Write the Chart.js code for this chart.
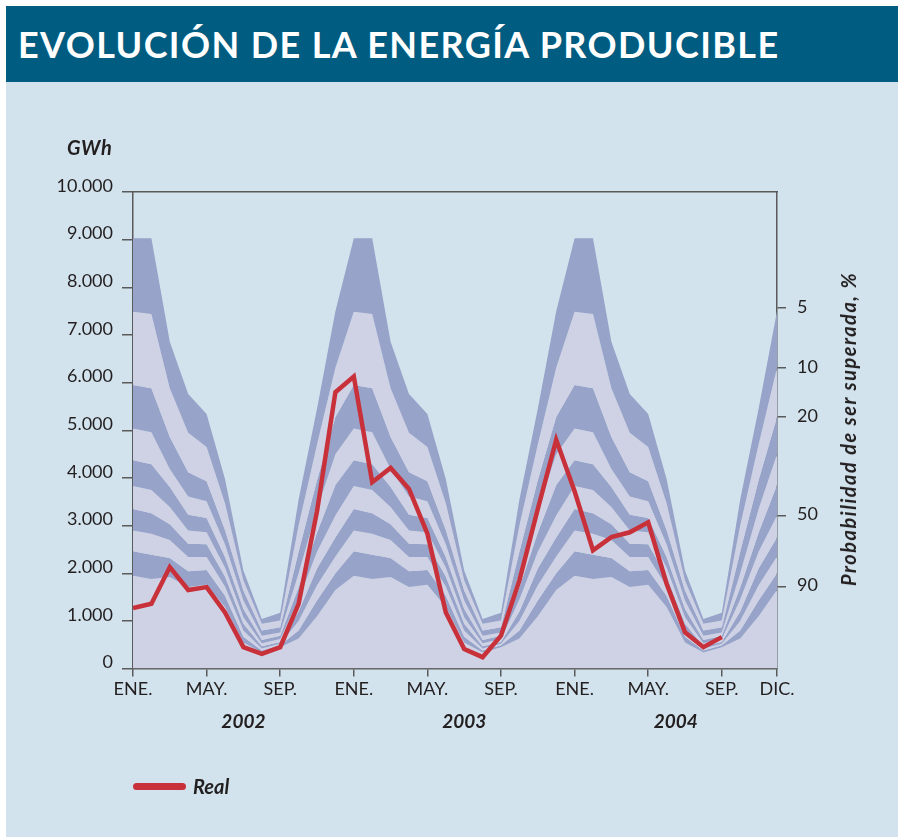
<!DOCTYPE html>
<html>
<head>
<meta charset="utf-8">
<script src="https://cdn.jsdelivr.net/npm/chart.js@4.4.1/dist/chart.umd.min.js"></script>
<style>
  html, body { margin: 0; padding: 0; background: #fff; }
  body { width: 898px; height: 837px; position: relative; overflow: hidden; font-family: Lato, "Open Sans", sans-serif; }
  #panel { position: absolute; left: 6px; top: 82px; width: 892px; height: 755px; background: #d2e3ed; }
  #title { position: absolute; left: 6px; top: 6px; width: 892px; height: 76px; background: #005c80;
           color: #fff; font-weight: 700; font-size: 36px; letter-spacing: 1.4px; line-height: 76px; padding-left: 12px; box-sizing: border-box; white-space: nowrap; }
  #wrap { position: absolute; left: 0; top: 0; width: 898px; height: 837px; }
  .lbl { position: absolute; color: #231f20; font-weight: 700; font-style: italic; white-space: nowrap; }
  #unit { left: 67px; top: 135px; font-size: 20px; letter-spacing: 0.5px; }
  #prob { left: 848px; top: 429px; font-size: 20px; letter-spacing: 1.5px; transform: translate(-50%, -50%) rotate(-90deg); }
  #legend-line { position: absolute; left: 133px; top: 783px; width: 53px; height: 7px; border-radius: 4px; background: #c8303a; }
  #legend-text { left: 193px; top: 774px; font-size: 20px; }
</style>
</head>
<body>
<div id="panel"></div>
<div id="title">EVOLUCIÓN DE LA ENERGÍA PRODUCIBLE</div>
<div id="wrap"><canvas id="chart"></canvas></div>
<div class="lbl" id="unit">GWh</div>
<div class="lbl" id="prob">Probabilidad de ser superada, %</div>
<div id="legend-line"></div>
<div class="lbl" id="legend-text">Real</div>

<script>
const months = ['ENE.', 'FEB.', 'MAR.', 'ABR.', 'MAY.', 'JUN.', 'JUL.', 'AGO.', 'SEP.', 'OCT.', 'NOV.', 'DIC.'];
const years = ['2002', '2003', '2004'];

// month positions that get a tick label, and where the year names sit
const monthTicks = [0, 4, 8, 12, 16, 20, 24, 28, 32, 35];
const yearTicks = [6, 18, 29.5];

// right axis: probability of being exceeded
const probTicks = [7570, 6310, 5280, 3210, 1720];
const probLabels = ['5', '10', '20', '50', '90'];

// producible energy by month (GWh), one line per probability level, ENE..DIC
const p05 = [9030, 9030, 6860, 5760, 5340, 3980, 2060, 1040, 1170, 3550, 5450, 7500];
const p10 = [7490, 7440, 5880, 4950, 4650, 3470, 1850, 940, 1010, 3000, 4700, 6310];
const p20 = [5950, 5880, 4860, 4120, 3930, 2910, 1640, 800, 870, 2450, 3950, 5280];
const p30 = [5040, 4960, 4190, 3610, 3510, 2610, 1430, 690, 760, 2000, 3350, 4500];
const p40 = [4370, 4290, 3810, 3230, 3160, 2340, 1250, 600, 690, 1700, 2850, 3850];
const p50 = [3830, 3750, 3390, 2900, 2860, 2120, 1080, 530, 620, 1450, 2450, 3210];
const p60 = [3350, 3260, 3030, 2620, 2610, 1930, 940, 470, 560, 1200, 2100, 2750];
const p70 = [2900, 2830, 2700, 2340, 2340, 1720, 800, 420, 520, 1000, 1750, 2350];
const p80 = [2460, 2390, 2320, 2040, 2070, 1530, 670, 380, 490, 800, 1430, 2000];
const p90 = [1950, 1880, 1920, 1710, 1760, 1290, 550, 340, 450, 630, 1100, 1650];

// measured values 2002-2004
const real2002 = [1270, 1360, 2130, 1650, 1710, 1180, 450, 310, 450, 1360, 3300, 5800];
const real2003 = [6130, 3910, 4210, 3770, 2830, 1180, 410, 240, 690, 1850, 3350, 4800];
const real2004 = [3720, 2480, 2760, 2860, 3070, 1780, 760, 450, 660, null, null, null];

const DARK = '#98a3c9';
const LIGHT = '#cfd1e4';
const INK = '#231f20';
const AXIS = '#5a5a5a';

const labels = [];
for (let y = 0; y < years.length; y++)
  for (let m = 0; m < 12; m++) labels.push(y * 12 + m);

const sameEachYear = a => a.concat(a, a);
const bandLines = [p05, p10, p20, p30, p40, p50, p60, p70, p80, p90];

const datasets = [{
  label: 'Real',
  data: real2002.concat(real2003, real2004),
  borderColor: '#c8303a',
  borderWidth: 4.5,
  borderJoinStyle: 'miter',
  pointRadius: 0,
  fill: false,
  tension: 0
}];

bandLines.forEach((line, i) => {
  const idx = i + 1;
  datasets.push({
    label: 'band' + idx,
    data: sameEachYear(line),
    borderColor: 'transparent',
    borderWidth: 0,
    pointRadius: 0,
    backgroundColor: i % 2 === 0 ? DARK : LIGHT,
    fill: idx < bandLines.length ? idx + 1 : 'origin',
    tension: 0
  });
});

const tickFont = { family: 'Lato', size: 18 };
const setTicks = list => scale => { scale.ticks = list.map(v => ({ value: v })); };

new Chart(document.getElementById('chart'), {
  type: 'line',
  data: { labels: labels, datasets: datasets },
  options: {
    responsive: true,
    maintainAspectRatio: false,
    animation: false,
    layout: { padding: { top: 192, left: 0, right: 0, bottom: 96 } },
    plugins: {
      legend: { display: false },
      tooltip: { enabled: false }
    },
    scales: {
      x: {
        type: 'linear',
        position: 'bottom',
        weight: 0,
        min: 0,
        max: 35,
        afterBuildTicks: setTicks(monthTicks),
        ticks: { callback: v => months[v % 12], font: tickFont, color: INK, padding: 2, maxRotation: 0, autoSkip: false },
        grid: { drawOnChartArea: false, tickLength: 8, color: AXIS, lineWidth: 1.5 },
        border: { color: AXIS, width: 1.5 }
      },
      years: {
        type: 'linear',
        position: 'bottom',
        weight: 1,
        min: 0,
        max: 35,
        afterBuildTicks: setTicks(yearTicks),
        ticks: { callback: (v, i) => years[i], font: { family: 'Lato', size: 19, weight: 'bold', style: 'italic' }, color: INK, padding: 8, maxRotation: 0, autoSkip: false },
        grid: { display: false, drawTicks: false },
        border: { display: false }
      },
      top: {
        type: 'linear',
        position: 'top',
        min: 0,
        max: 35,
        ticks: { display: false },
        grid: { drawOnChartArea: false, drawTicks: false },
        border: { color: AXIS, width: 1.5 },
        afterFit: s => { s.height = 0; }
      },
      y: {
        position: 'left',
        min: 0,
        max: 10000,
        ticks: {
          stepSize: 1000,
          callback: v => v === 0 ? '0' : (v / 1000) + '.000',
          font: tickFont, color: INK, padding: 9, labelOffset: -6
        },
        grid: { drawOnChartArea: false, tickLength: 11, color: AXIS, lineWidth: 1.5 },
        border: { color: AXIS, width: 1.5 },
        afterFit: s => { s.width = 133; }
      },
      y2: {
        position: 'right',
        min: 0,
        max: 10000,
        afterBuildTicks: setTicks(probTicks),
        ticks: { callback: (v, i) => probLabels[i], font: tickFont, color: INK, padding: 11, labelOffset: -1 },
        grid: { drawOnChartArea: false, tickLength: 9, color: AXIS, lineWidth: 1.5 },
        border: { color: AXIS, width: 1.5 },
        afterFit: s => { s.width = 121; }
      }
    }
  }
});
</script>
</body>
</html>
